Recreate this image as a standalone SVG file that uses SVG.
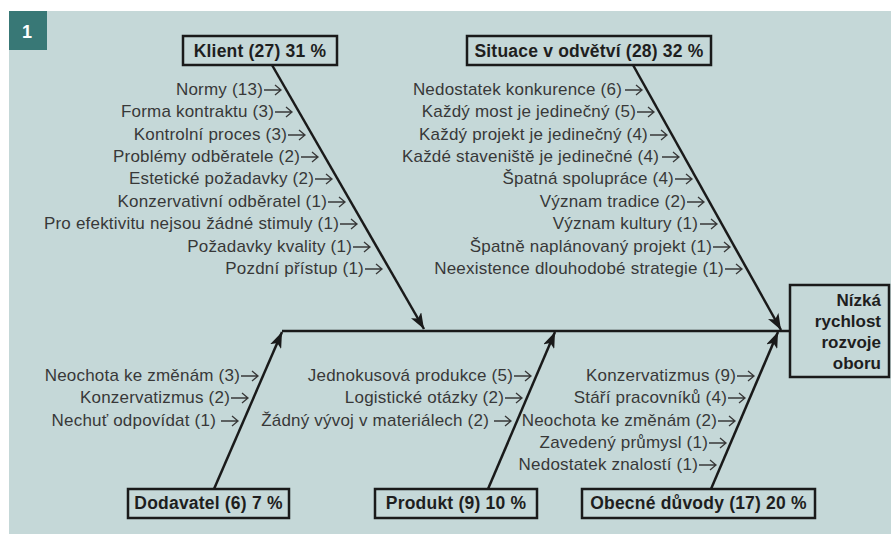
<svg xmlns="http://www.w3.org/2000/svg" width="891" height="534" viewBox="0 0 891 534">
<defs>
<marker id="ah" viewBox="-16 -6 16 12" refX="0" refY="0" markerWidth="16" markerHeight="12" markerUnits="userSpaceOnUse" orient="auto">
<path d="M0,0 L-16,-6 L-12,0 L-16,6 Z" fill="#1a1a1a"/>
</marker>
<symbol id="sa" viewBox="0 -6 18 12" width="18" height="12" overflow="visible">
<path d="M0,0 H17 M11,-5 L17,0 L11,5" fill="none" stroke="#383838" stroke-width="1.3"/>
</symbol>
<style>
.bg{fill:#c5d8d8}
.box{fill:none;stroke:#1a1a1a;stroke-width:2.5}
.lbl{font-family:"Liberation Sans",Arial,sans-serif;font-size:17.5px;font-weight:bold;fill:#1e1e1e;text-anchor:middle;letter-spacing:0.2px}
.eff{font-family:"Liberation Sans",Arial,sans-serif;font-size:17px;font-weight:bold;fill:#1e1e1e;text-anchor:end}
.t{font-family:"Liberation Sans",Arial,sans-serif;font-size:17px;fill:#383838;text-anchor:end;letter-spacing:0.2px}
.ln{stroke:#1a1a1a;stroke-width:2.5;fill:none}
.ar{marker-end:url(#ah)}
</style>
</defs>
<rect class="bg" x="9" y="11" width="882" height="523"/>
<g id="badge">
<rect x="9" y="11" width="38" height="39" fill="#387876"/>
<text x="27" y="38" font-family="Liberation Sans,Arial,sans-serif" font-size="18" font-weight="bold" fill="#ffffff" text-anchor="middle">1</text>
</g>
<g id="connectors">
<line class="ln" x1="282" y1="331" x2="790" y2="331"/>
<line class="ln ar" x1="272" y1="65" x2="424" y2="329"/>
<line class="ln ar" x1="633" y1="65" x2="781" y2="330"/>
<line class="ln ar" x1="214" y1="489" x2="282" y2="332"/>
<line class="ln ar" x1="488" y1="489" x2="555" y2="332"/>
<line class="ln ar" x1="711" y1="489" x2="778" y2="332"/>
</g>
<g id="klient">
<rect class="box" x="183" y="36" width="154" height="29"/>
<text class="lbl" x="260" y="57">Klient (27) 31 %</text>
<text class="t" x="263" y="95">Normy (13)</text><use href="#sa" x="264" y="84"/>
<text class="t" x="274" y="117">Forma kontraktu (3)</text><use href="#sa" x="275" y="106"/>
<text class="t" x="287" y="140">Kontrolní proces (3)</text><use href="#sa" x="288" y="129"/>
<text class="t" x="300" y="162">Problémy odběratele (2)</text><use href="#sa" x="301" y="151"/>
<text class="t" x="314" y="184">Estetické požadavky (2)</text><use href="#sa" x="315" y="173"/>
<text class="t" x="327" y="207">Konzervativní odběratel (1)</text><use href="#sa" x="328" y="196"/>
<text class="t" x="339" y="229">Pro efektivitu nejsou žádné stimuly (1)</text><use href="#sa" x="340" y="218"/>
<text class="t" x="352" y="252">Požadavky kvality (1)</text><use href="#sa" x="353" y="241"/>
<text class="t" x="364" y="274">Pozdní přístup (1)</text><use href="#sa" x="365" y="263"/>
</g>
<g id="situace">
<rect class="box" x="467" y="36" width="244" height="29"/>
<text class="lbl" x="589" y="57">Situace v odvětví (28) 32 %</text>
<text class="t" x="622" y="95">Nedostatek konkurence (6)</text><use href="#sa" x="625" y="84"/>
<text class="t" x="636" y="117">Každý most je jedinečný (5)</text><use href="#sa" x="637" y="106"/>
<text class="t" x="648" y="140">Každý projekt je jedinečný (4)</text><use href="#sa" x="650" y="129"/>
<text class="t" x="659" y="162">Každé staveniště je jedinečné (4)</text><use href="#sa" x="662" y="151"/>
<text class="t" x="674" y="184">Špatná spolupráce (4)</text><use href="#sa" x="675" y="173"/>
<text class="t" x="686" y="207">Význam tradice (2)</text><use href="#sa" x="687" y="196"/>
<text class="t" x="698" y="229">Význam kultury (1)</text><use href="#sa" x="700" y="218"/>
<text class="t" x="712" y="252">Špatně naplánovaný projekt (1)</text><use href="#sa" x="713" y="241"/>
<text class="t" x="724" y="274">Neexistence dlouhodobé strategie (1)</text><use href="#sa" x="725" y="263"/>
</g>
<g id="dodavatel">
<rect class="box" x="128" y="489" width="161" height="29"/>
<text class="lbl" x="208.5" y="509">Dodavatel (6) 7 %</text>
<text class="t" x="240" y="381">Neochota ke změnám (3)</text><use href="#sa" x="241" y="370"/>
<text class="t" x="230" y="403">Konzervatizmus (2)</text><use href="#sa" x="231" y="392"/>
<text class="t" x="216" y="426">Nechuť odpovídat (1)</text><use href="#sa" x="221" y="415"/>
</g>
<g id="produkt">
<rect class="box" x="375" y="489" width="162" height="29"/>
<text class="lbl" x="456" y="509">Produkt (9) 10 %</text>
<text class="t" x="513" y="381">Jednokusová produkce (5)</text><use href="#sa" x="514" y="370"/>
<text class="t" x="504" y="403">Logistické otázky (2)</text><use href="#sa" x="505" y="392"/>
<text class="t" x="489" y="426">Žádný vývoj v materiálech (2)</text><use href="#sa" x="494" y="415"/>
</g>
<g id="obecne">
<rect class="box" x="582" y="489" width="233" height="29"/>
<text class="lbl" x="698.5" y="509">Obecné důvody (17) 20 %</text>
<text class="t" x="736" y="381">Konzervatizmus (9)</text><use href="#sa" x="737" y="370"/>
<text class="t" x="727" y="403">Stáří pracovníků (4)</text><use href="#sa" x="728" y="392"/>
<text class="t" x="717" y="426">Neochota ke změnám (2)</text><use href="#sa" x="718" y="415"/>
<text class="t" x="708" y="448">Zavedený průmysl (1)</text><use href="#sa" x="709" y="437"/>
<text class="t" x="698" y="470">Nedostatek znalostí (1)</text><use href="#sa" x="699" y="459"/>
</g>
<g id="effect">
<rect class="box" x="790" y="285" width="99" height="92"/>
<text class="eff" x="881" y="306">Nízká</text>
<text class="eff" x="881" y="327">rychlost</text>
<text class="eff" x="881" y="348">rozvoje</text>
<text class="eff" x="881" y="369">oboru</text>
</g>
</svg>
